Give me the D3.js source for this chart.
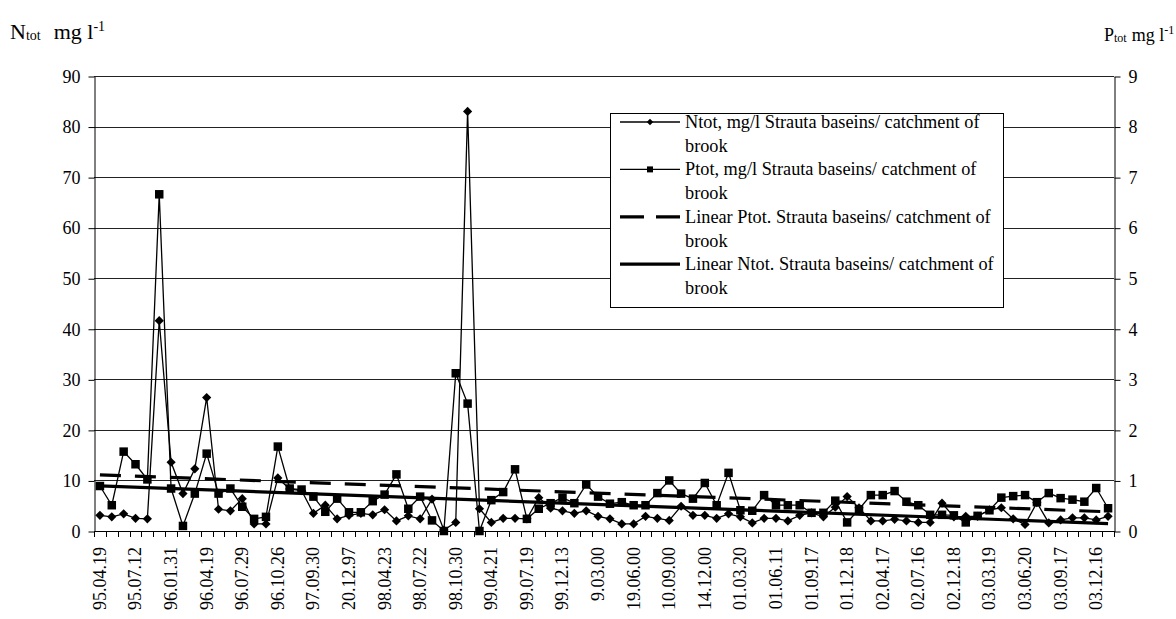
<!DOCTYPE html>
<html>
<head>
<meta charset="utf-8">
<script src="https://cdn.jsdelivr.net/npm/d3@7"></script>
<style>
  html, body { margin: 0; padding: 0; background: #fff; }
  svg { display: block; }
  svg text { font-family: "Liberation Serif", "Times New Roman", Tinos, "DejaVu Serif", "Noto Serif", serif; }
</style>
</head>
<body>
<svg id="chart" width="1176" height="619"></svg>
<script>
// Sampling dates shown on the category axis (every third sample is labelled)
const dateLabels = [
  "95.04.19", "95.07.12", "96.01.31", "96.04.19", "96.07.29", "96.10.26",
  "97.09.30", "20.12.97", "98.04.23", "98.07.22", "98.10.30", "99.04.21",
  "99.07.19", "99.12.13", "9.03.00", "19.06.00", "10.09.00", "14.12.00",
  "01.03.20", "01.06.11", "01.09.17", "01.12.18", "02.04.17", "02.07.16",
  "02.12.18", "03.03.19", "03.06.20", "03.09.17", "03.12.16"
];
const labelStep = 3;

// Total nitrogen, mg/l
const ntot = [
  3.1, 2.8, 3.4, 2.5, 2.4, 41.6, 13.6, 7.4, 12.3, 26.4,
  4.3, 4.0, 6.4, 1.4, 1.4, 10.5, 8.3, 8.0, 3.5, 5.1,
  2.4, 3.1, 3.5, 3.2, 4.2, 2.0, 3.0, 2.4, 6.3, 0.2,
  1.7, 83.0, 4.4, 1.7, 2.5, 2.5, 2.4, 6.6, 4.5, 4.0,
  3.5, 4.0, 2.9, 2.4, 1.4, 1.4, 2.9, 2.5, 2.1, 4.9,
  3.1, 3.1, 2.5, 3.4, 2.8, 1.6, 2.5, 2.5, 2.0, 3.1,
  3.6, 2.8, 4.7, 6.8, 4.6, 2.0, 2.0, 2.3, 2.0, 1.7,
  1.7, 5.5, 2.8, 2.9, 2.9, 4.2, 4.6, 2.4, 1.3, 5.6,
  1.6, 2.2, 2.6, 2.6, 2.2, 2.9
];

// Total phosphorus, mg/l
const ptot = [
  0.89, 0.51, 1.57, 1.32, 1.02, 6.66, 0.84, 0.10, 0.74, 1.53,
  0.74, 0.84, 0.48, 0.24, 0.28, 1.67, 0.84, 0.82, 0.68, 0.38,
  0.64, 0.37, 0.37, 0.59, 0.72, 1.12, 0.44, 0.68, 0.21, 0.00,
  3.12, 2.52, 0.00, 0.61, 0.77, 1.22, 0.24, 0.44, 0.55, 0.66,
  0.55, 0.92, 0.68, 0.54, 0.57, 0.51, 0.51, 0.75, 1.00, 0.74,
  0.64, 0.95, 0.51, 1.15, 0.41, 0.40, 0.71, 0.51, 0.51, 0.51,
  0.36, 0.36, 0.60, 0.17, 0.43, 0.71, 0.71, 0.79, 0.58, 0.51,
  0.32, 0.32, 0.31, 0.17, 0.30, 0.41, 0.66, 0.69, 0.71, 0.57,
  0.75, 0.65, 0.62, 0.58, 0.85, 0.45
];

const nTicks = d3.range(0, 91, 10);
const pTicks = d3.range(0, 10, 1);

const legendLabels = [
  ["Ntot, mg/l Strauta baseins/ catchment of", "brook"],
  ["Ptot, mg/l Strauta baseins/ catchment of", "brook"],
  ["Linear Ptot. Strauta baseins/ catchment of", "brook"],
  ["Linear Ntot. Strauta baseins/ catchment of", "brook"]
];

// ---- layout ----
const svg = d3.select("#chart");
const plot = { left: 94, right: 1114, top: 76, bottom: 531 };
const n = ntot.length;
const idx = d3.range(n);

const x = d3.scaleBand().domain(idx).range([plot.left, plot.right]).padding(0);
const cx = i => x(i) + x.bandwidth() / 2;
const yN = d3.scaleLinear().domain([0, 90]).range([plot.bottom, plot.top]);
const yP = d3.scaleLinear().domain([0, 9]).range([plot.bottom, plot.top]);

// horizontal gridlines
svg.append("g")
  .selectAll("line")
  .data(nTicks.filter(d => d > 0))
  .join("line")
  .attr("x1", plot.left).attr("x2", plot.right)
  .attr("y1", d => Math.round(yN(d)) + 0.5)
  .attr("y2", d => Math.round(yN(d)) + 0.5)
  .attr("stroke", "#222").attr("stroke-width", 1);

// left axis
const axL = svg.append("g")
  .attr("transform", `translate(${plot.left + 0.5},0.5)`)
  .call(d3.axisLeft(yN).tickValues(nTicks).tickSize(6).tickSizeOuter(0).tickPadding(8));
// right axis
const axR = svg.append("g")
  .attr("transform", `translate(${plot.right + 0.5},0.5)`)
  .call(d3.axisRight(yP).tickValues(pTicks).tickSize(6).tickSizeOuter(0).tickPadding(8));
[axL, axR].forEach(g => {
  g.attr("font-family", null);
  g.selectAll("path, line").attr("stroke", "#000");
  g.selectAll("text").attr("font-size", 18).attr("fill", "#000");
});

// category axis line and boundary ticks
svg.append("line")
  .attr("x1", plot.left).attr("x2", plot.right + 1)
  .attr("y1", plot.bottom + 0.5).attr("y2", plot.bottom + 0.5)
  .attr("stroke", "#000");
svg.append("g")
  .selectAll("line")
  .data(d3.range(n + 1))
  .join("line")
  .attr("x1", i => Math.round(plot.left + i * x.bandwidth()) + 0.5)
  .attr("x2", i => Math.round(plot.left + i * x.bandwidth()) + 0.5)
  .attr("y1", plot.bottom).attr("y2", plot.bottom + 6)
  .attr("stroke", "#000");

// rotated date labels
svg.append("g")
  .selectAll("text")
  .data(dateLabels)
  .join("text")
  .attr("transform", (d, k) => `translate(${cx(k * labelStep)},547) rotate(-90)`)
  .attr("text-anchor", "end")
  .attr("dy", "0.33em")
  .attr("font-size", 18)
  .text(d => d);

// series lines
const lineN = d3.line().x((d, i) => cx(i)).y(d => yN(d));
const lineP = d3.line().x((d, i) => cx(i)).y(d => yP(d));

svg.append("path").datum(ntot).attr("d", lineN)
  .attr("fill", "none").attr("stroke", "#000").attr("stroke-width", 1.3);
svg.append("path").datum(ptot).attr("d", lineP)
  .attr("fill", "none").attr("stroke", "#000").attr("stroke-width", 1.3);

const diamond = r => `M0,${-r}L${r},0L0,${r}L${-r},0Z`;
const square = s => `M${-s / 2},${-s / 2}h${s}v${s}h${-s}Z`;

svg.append("g").selectAll("path")
  .data(ntot).join("path")
  .attr("transform", (d, i) => `translate(${cx(i)},${yN(d)})`)
  .attr("d", diamond(4.6)).attr("fill", "#000");
svg.append("g").selectAll("path")
  .data(ptot).join("path")
  .attr("transform", (d, i) => `translate(${cx(i)},${yP(d)})`)
  .attr("d", square(8.5)).attr("fill", "#000");

// least-squares linear trends
function linearFit(vals) {
  const mx = d3.mean(idx), my = d3.mean(vals);
  const sxy = d3.sum(idx, i => (i - mx) * (vals[i] - my));
  const sxx = d3.sum(idx, i => (i - mx) * (i - mx));
  const b = sxy / sxx;
  return i => my + b * (i - mx);
}
const fitP = linearFit(ptot);
const fitN = linearFit(ntot);

svg.append("line")
  .attr("x1", cx(0)).attr("x2", cx(n - 1))
  .attr("y1", yP(fitP(0))).attr("y2", yP(fitP(n - 1)))
  .attr("stroke", "#000").attr("stroke-width", 3.2)
  .attr("stroke-dasharray", "21,14");
svg.append("line")
  .attr("x1", cx(0)).attr("x2", cx(n - 1))
  .attr("y1", yN(fitN(0))).attr("y2", yN(fitN(n - 1)))
  .attr("stroke", "#000").attr("stroke-width", 3.2);

// legend
const lg = svg.append("g");
lg.append("rect")
  .attr("x", 610.5).attr("y", 113.5).attr("width", 393).attr("height", 194)
  .attr("fill", "#fff").attr("stroke", "#000");
const rowH = 23.7;
const row0 = 122;
legendLabels.forEach((lines, k) => {
  const yc = row0 + k * 2 * rowH;
  const g = lg.append("g");
  if (k < 2) {
    g.append("line").attr("x1", 620).attr("x2", 680).attr("y1", yc).attr("y2", yc)
      .attr("stroke", "#000").attr("stroke-width", 1.3);
    g.append("path").attr("transform", `translate(650,${yc})`)
      .attr("d", k === 0 ? diamond(3.2) : square(6)).attr("fill", "#000");
  } else {
    g.append("line").attr("x1", 620).attr("x2", 680).attr("y1", yc).attr("y2", yc)
      .attr("stroke", "#000").attr("stroke-width", 3.2)
      .attr("stroke-dasharray", k === 2 ? "24,12" : null);
  }
  lines.forEach((t, j) => {
    g.append("text")
      .attr("x", 685).attr("y", yc + j * rowH)
      .attr("dy", "0.33em").attr("font-size", 18.3)
      .text(t);
  });
});

// axis titles
function unitTitle(xPos, yPos, letter, big, small, gap) {
  const t = svg.append("text").attr("x", xPos).attr("y", yPos).attr("fill", "#000");
  t.append("tspan").attr("font-size", big).text(letter);
  t.append("tspan").attr("font-size", small).attr("dy", 1).text("tot");
  t.append("tspan").attr("font-size", big).attr("dy", -1).attr("dx", gap).text("mg l");
  t.append("tspan").attr("font-size", small).attr("dy", -big * 0.38).text("-1");
}
unitTitle(10, 39, "N", 22, 14, 13);
unitTitle(1104, 41, "P", 18, 12, 5);
</script>
</body>
</html>
